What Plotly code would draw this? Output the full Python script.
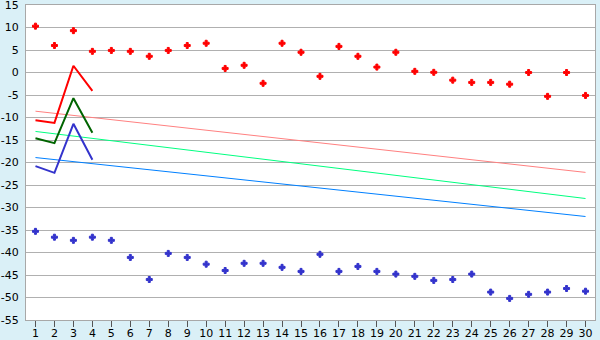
import plotly.graph_objects as go

cats = list(range(1, 31))

red_pts = [10.3, 6.0, 9.3, 4.7, 4.9, 4.7, 3.6, 4.9, 6.0, 6.5,
           0.9, 1.6, -2.4, 6.5, 4.5, -0.85, 5.8, 3.6, 1.2, 4.5,
           0.26, 0.04, -1.7, -2.2, -2.2, -2.6, 0.0, -5.3, 0.0, -5.1]
blue_pts = [-35.3, -36.6, -37.3, -36.6, -37.3, -41.1, -46.0, -40.2, -41.1, -42.6,
            -44.0, -42.4, -42.4, -43.3, -44.2, -40.4, -44.2, -43.1, -44.2, -44.8,
            -45.3, -46.2, -46.0, -44.8, -48.8, -50.2, -49.3, -48.8, -48.0, -48.6]

line_cats = [1, 2, 3, 4]
red_line = [-10.6, -11.2, 1.5, -4.1]
green_line = [-14.6, -15.7, -5.7, -13.4]
blue_line = [-20.8, -22.3, -11.4, -19.4]

trend_cats = [1, 30]
pink_trend = [-8.6, -22.2]
green_trend = [-13.1, -28.0]
blue_trend = [-18.9, -32.0]

y_ticks = list(range(15, -56, -5))
y_labels = [str(v) for v in y_ticks]

fig = go.Figure()
fig.add_trace(go.Scatter(x=trend_cats, y=pink_trend, mode="lines",
                         line=dict(color="#ff8080", width=1)))
fig.add_trace(go.Scatter(x=trend_cats, y=green_trend, mode="lines",
                         line=dict(color="#00ff80", width=1)))
fig.add_trace(go.Scatter(x=trend_cats, y=blue_trend, mode="lines",
                         line=dict(color="#0080ff", width=1)))
fig.add_trace(go.Scatter(x=line_cats, y=red_line, mode="lines",
                         line=dict(color="#ff0000", width=2)))
fig.add_trace(go.Scatter(x=line_cats, y=green_line, mode="lines",
                         line=dict(color="#006400", width=2)))
fig.add_trace(go.Scatter(x=line_cats, y=blue_line, mode="lines",
                         line=dict(color="#3333cc", width=2)))
fig.add_trace(go.Scatter(x=cats, y=red_pts, mode="markers",
                         marker=dict(symbol="cross", size=5, color="#ff0000",
                                     line=dict(color="#ff0000", width=1))))
fig.add_trace(go.Scatter(x=cats, y=blue_pts, mode="markers",
                         marker=dict(symbol="cross", size=5, color="#3333cc",
                                     line=dict(color="#3333cc", width=1))))

fig.update_layout(
    width=600, height=340,
    margin=dict(l=26, r=5, t=5, b=20),
    paper_bgcolor="#daf0f7",
    plot_bgcolor="#ffffff",
    showlegend=False,
    font=dict(family="DejaVu Sans", size=11, color="#000000"),
)
fig.update_xaxes(range=[0.5, 30.5], tickmode="array", tickvals=cats,
                 showgrid=False, zeroline=False, automargin=False,
                 showline=True, linecolor="#a8a8a8", linewidth=1, mirror=True,
                 ticks="outside", ticklen=6, tickcolor="#555555",
                 ticklabelstandoff=-3, ticklabeloverflow="allow")
fig.update_yaxes(range=[-55, 15], tickmode="array", tickvals=y_ticks,
                 ticktext=y_labels, automargin=False,
                 showgrid=True, gridcolor="#b0b0b0", gridwidth=1, zeroline=False,
                 showline=True, linecolor="#a8a8a8", linewidth=1, mirror=True,
                 ticks="", ticklabelstandoff=4, ticklabeloverflow="allow")

fig.write_html("out.html")
